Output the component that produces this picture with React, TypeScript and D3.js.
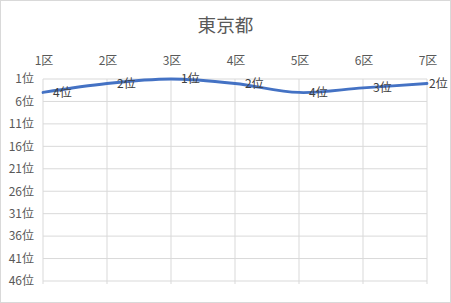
import React from "react";
import * as d3 from "d3";

const categories = ["1区", "2区", "3区", "4区", "5区", "6区", "7区"];
const ranks = [4, 2, 1, 2, 4, 3, 2];
const yTicks = [1, 6, 11, 16, 21, 26, 31, 36, 41, 46];
const title = "東京都";

const W = 451;
const H = 303;
const FONT = "'Noto Sans CJK JP', 'Noto Sans', sans-serif";

export default function App() {
  const x = d3.scalePoint<string>().domain(categories).range([43, 427]);
  const y = d3.scaleLinear().domain([1, 46]).range([79, 281]);
  const line = d3
    .line<number>()
    .x((_, i) => x(categories[i]) as number)
    .y((d) => y(d))
    .curve(d3.curveCatmullRom.alpha(0));
  return (
    <svg
      width={W}
      height={H}
      style={{ position: "absolute", left: 0, top: 0, background: "#fff" }}
      fontFamily={FONT}
    >
      <rect x={0.5} y={0.5} width={W - 1} height={H - 1} fill="#fff" stroke="#d9d9d9" />
      <text x={225.5} y={32} textAnchor="middle" fontSize={18.6} fill="#595959">
        {title}
      </text>
      {yTicks.map((t) => (
        <line key={"h" + t} x1={43} x2={427} y1={y(t)} y2={y(t)} stroke="#d9d9d9" strokeWidth={1} />
      ))}
      {categories.map((c) => (
        <line key={"v" + c} x1={x(c)} x2={x(c)} y1={y(1)} y2={y(46) + 3} stroke="#d9d9d9" strokeWidth={1} />
      ))}
      {yTicks.map((t) => (
        <text key={"yl" + t} x={34} y={y(t)} dy="0.36em" textAnchor="end" fontSize={12} fill="#595959">
          {t + "位"}
        </text>
      ))}
      {categories.map((c) => (
        <text key={"xl" + c} x={(x(c) as number) + 1} y={65} textAnchor="middle" fontSize={12} fill="#595959">
          {c}
        </text>
      ))}
      <path d={line(ranks) || ""} fill="none" stroke="#4472C4" strokeWidth={2.8} strokeLinecap="round" />
      {ranks.map((r, i) => {
        const px = x(categories[i]) as number;
        const lx = Math.min(px + 10, 429);
        return (
          <text key={"dl" + i} x={lx} y={y(r)} dy="0.36em" fontSize={12} fill="#404040">
            {r + "位"}
          </text>
        );
      })}
    </svg>
  );
}
